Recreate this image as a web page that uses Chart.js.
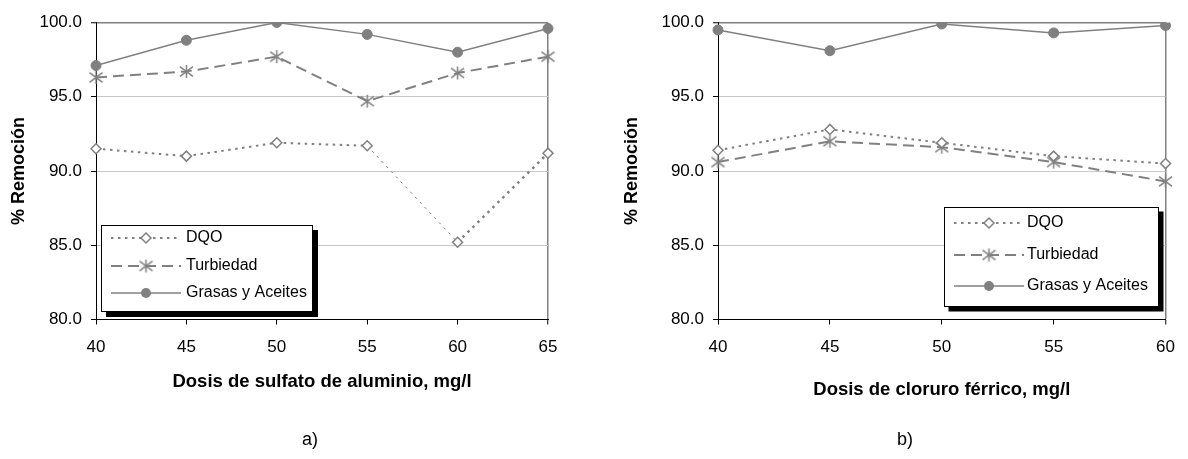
<!DOCTYPE html>
<html><head><meta charset="utf-8">
<script src="https://cdn.jsdelivr.net/npm/chart.js@4/dist/chart.umd.min.js"></script>
<style>
html,body{margin:0;padding:0;background:#fff;width:1188px;height:459px;overflow:hidden;font-family:"Liberation Sans",Arial,sans-serif;}
.wrap{position:absolute;top:0;width:594px;height:459px;}
.cap{position:absolute;font-size:18px;color:#000;transform:translate(-50%,-50%);top:439px;font-family:"Liberation Sans",Arial,sans-serif;}
</style></head><body>
<div class="wrap" style="left:0"><canvas id="c1" width="594" height="459"></canvas></div>
<div class="wrap" style="left:594px"><canvas id="c2" width="594" height="459"></canvas></div>
<div class="cap" style="left:310px">a)</div>
<div class="cap" style="left:905px">b)</div>
<script>
// ---- data ----
const dosisSulfato = ['40','45','50','55','60','65'];
const sulfatoDQO = [91.5, 91.0, 91.9, 91.7, 85.2, 91.2];
const sulfatoTurbiedad = [96.3, 96.7, 97.7, 94.7, 96.6, 97.7];
const sulfatoGrasas = [97.1, 98.8, 100.0, 99.2, 98.0, 99.6];

const dosisCloruro = ['40','45','50','55','60'];
const cloruroDQO = [91.4, 92.8, 91.9, 91.0, 90.5];
const cloruroTurbiedad = [90.6, 92.0, 91.6, 90.6, 89.3];
const cloruroGrasas = [99.5, 98.1, 99.9, 99.3, 99.8];

const seriesNames = ['DQO', 'Turbiedad', 'Grasas y Aceites'];
const yMin = 80, yMax = 100, yStep = 5;
const xTitleA = 'Dosis de sulfato de aluminio, mg/l';
const xTitleB = 'Dosis de cloruro férrico, mg/l';
const yTitle = '% Remoción';

// ---- styles ----
const GRAY = '#808080';
const FONT = '"Liberation Sans", Arial, sans-serif';

function makeAsterisk(size, color, lw) {
  const c = document.createElement('canvas');
  c.width = size; c.height = size;
  const g = c.getContext('2d');
  g.strokeStyle = color; g.lineWidth = lw;
  const m = size / 2, r = size / 2 - 1;
  g.beginPath();
  g.moveTo(m, m - r); g.lineTo(m, m + r);
  g.moveTo(m - r, m - r * 0.75); g.lineTo(m + r, m + r * 0.75);
  g.moveTo(m - r, m + r * 0.75); g.lineTo(m + r, m - r * 0.75);
  g.stroke();
  return c;
}
const asterisk = makeAsterisk(15, GRAY, 1.5);

function datasets(dqo, turb, gras, dqoSegment) {
  return [
    { label: seriesNames[0], data: dqo, borderColor: GRAY, borderWidth: 2, borderDash: [2.5, 4.5],
      pointStyle: 'rectRot', pointRadius: 5, pointBackgroundColor: '#fff', pointBorderColor: GRAY, pointBorderWidth: 1.5,
      segment: dqoSegment || {} },
    { label: seriesNames[1], data: turb, borderColor: GRAY, borderWidth: 2, borderDash: [11, 6],
      pointStyle: asterisk, pointRadius: 7, pointBackgroundColor: GRAY, pointBorderColor: GRAY },
    { label: seriesNames[2], data: gras, borderColor: GRAY, borderWidth: 1.5, borderDash: [],
      pointStyle: 'circle', pointRadius: 5, pointBackgroundColor: GRAY, pointBorderColor: GRAY, pointBorderWidth: 1 }
  ];
}

function drawMarker(ctx, ds, x, y) {
  ctx.save();
  ctx.setLineDash([]);
  if (ds.pointStyle instanceof HTMLCanvasElement) {
    ctx.drawImage(ds.pointStyle, x - ds.pointStyle.width / 2, y - ds.pointStyle.height / 2);
  } else if (ds.pointStyle === 'rectRot') {
    const r = ds.pointRadius;
    ctx.beginPath();
    ctx.moveTo(x, y - r); ctx.lineTo(x + r, y); ctx.lineTo(x, y + r); ctx.lineTo(x - r, y); ctx.closePath();
    ctx.fillStyle = ds.pointBackgroundColor; ctx.fill();
    ctx.strokeStyle = ds.pointBorderColor; ctx.lineWidth = ds.pointBorderWidth; ctx.stroke();
  } else {
    ctx.beginPath(); ctx.arc(x, y, ds.pointRadius, 0, Math.PI * 2);
    ctx.fillStyle = ds.pointBackgroundColor; ctx.fill();
  }
  ctx.restore();
}

const boxLegend = {
  id: 'boxLegend',
  afterDraw(chart, args, o) {
    const ctx = chart.ctx;
    ctx.save();
    ctx.fillStyle = '#000';
    ctx.fillRect(o.x + o.shadow, o.y + o.shadow, o.w, o.h);
    ctx.fillStyle = '#fff';
    ctx.fillRect(o.x, o.y, o.w, o.h);
    ctx.strokeStyle = '#000'; ctx.lineWidth = 1;
    ctx.strokeRect(o.x + 0.5, o.y + 0.5, o.w - 1, o.h - 1);
    chart.data.datasets.forEach((ds, i) => {
      const yy = o.rows[i];
      ctx.strokeStyle = ds.borderColor; ctx.lineWidth = ds.borderWidth;
      ctx.setLineDash(ds.borderDash || []);
      ctx.beginPath(); ctx.moveTo(o.lx0, yy); ctx.lineTo(o.lx1, yy); ctx.stroke();
      ctx.setLineDash([]);
      drawMarker(ctx, ds, (o.lx0 + o.lx1) / 2, yy);
      ctx.fillStyle = '#000';
      ctx.font = o.fontSize + 'px ' + FONT;
      ctx.textBaseline = 'middle'; ctx.textAlign = 'left';
      ctx.fillText(ds.label, o.tx, yy);
    });
    ctx.restore();
  }
};

function makeChart(id, labels, ds, xTitle, yWidth, padRight, yTitlePad, xTitlePad, legendOpts) {
  return new Chart(document.getElementById(id), {
    type: 'line',
    data: { labels: labels, datasets: ds },
    options: {
      responsive: false, animation: false, events: [],
      layout: { padding: { top: 22.5, right: padRight, bottom: 0, left: 0 } },
      elements: { line: { tension: 0, fill: false } },
      plugins: { legend: { display: false }, tooltip: { enabled: false }, boxLegend: legendOpts },
      scales: {
        x: {
          type: 'category', offset: false,
          afterFit: s => { s.height = 139.5; },
          grid: {
            drawTicks: true, tickLength: 5, tickColor: '#000', tickWidth: 1,
            color: c => (c.index === labels.length - 1 ? GRAY : 'rgba(0,0,0,0)'),
            lineWidth: c => (c.index === labels.length - 1 ? 1.5 : 1)
          },
          border: { display: true, color: '#000', width: 1 },
          ticks: { color: '#000', font: { family: FONT, size: 17 }, padding: 13, maxRotation: 0, autoSkip: false },
          title: { display: true, text: xTitle, color: '#000',
                   font: { family: FONT, size: 18.5, weight: 'bold' }, padding: { top: 0, bottom: xTitlePad } }
        },
        y: {
          min: yMin, max: yMax,
          afterFit: s => { s.width = yWidth; },
          afterBuildTicks: s => { s.ticks = []; for (let v = yMin; v <= yMax; v += yStep) s.ticks.push({ value: v }); },
          grid: {
            drawTicks: true, tickLength: 5, tickColor: '#000', tickWidth: 1,
            color: c => (c.tick.value === yMax ? GRAY : (c.tick.value === yMin ? 'rgba(0,0,0,0)' : '#c8c8c8')),
            lineWidth: c => (c.tick.value === yMax ? 1.5 : 1)
          },
          border: { display: true, color: '#000', width: 1 },
          ticks: { color: '#000', font: { family: FONT, size: 17 }, padding: 9, callback: v => Number(v).toFixed(1) },
          title: { display: true, text: yTitle, color: '#000',
                   font: { family: FONT, size: 18, weight: 'bold' }, padding: { top: yTitlePad, bottom: 0 } }
        }
      }
    },
    plugins: [boxLegend]
  });
}

makeChart('c1', dosisSulfato,
  datasets(sulfatoDQO, sulfatoTurbiedad, sulfatoGrasas, {
    borderWidth: c => (c.p0DataIndex === 3 ? 1 : (c.p0DataIndex === 4 ? 2.5 : 2))
  }),
  xTitleA, 96, 46, 8, 66,
  { x: 101, y: 225, w: 212, h: 87, shadow: 5, rows: [238, 266, 293], lx0: 111, lx1: 181, tx: 186, fontSize: 16 });

makeChart('c2', dosisCloruro,
  datasets(cloruroDQO, cloruroTurbiedad, cloruroGrasas),
  xTitleB, 124, 18, 27, 58,
  { x: 350, y: 207, w: 215, h: 100, shadow: 4.5, rows: [223, 255, 286], lx0: 360, lx1: 430, tx: 433, fontSize: 16 });
</script>
</body></html>
